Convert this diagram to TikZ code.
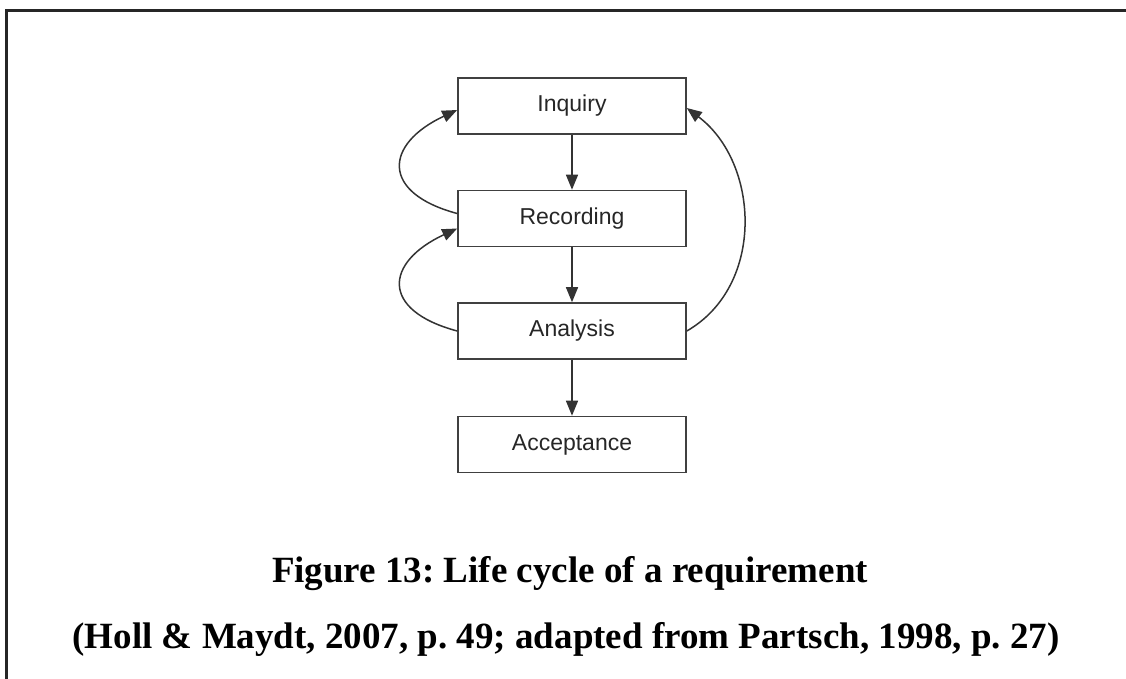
\documentclass[tikz,border=0pt]{standalone}
\usepackage{fontspec}
\setmainfont{Liberation Serif}
\newfontfamily\boxfont{Liberation Sans}
\usetikzlibrary{arrows.meta}
\frenchspacing

\tikzset{
  stagebox/.style={draw=black!75, line width=1.6pt, minimum width=228pt, minimum height=56pt,
    inner sep=0pt, font=\boxfont\fontsize{23}{27}\selectfont, text=black!85},
  flow/.style={draw=black!80, line width=1.5pt, -{Triangle[length=15pt,width=12pt]}},
  captionline/.style={anchor=base, inner sep=0pt, font=\bfseries\fontsize{37}{44}\selectfont}
}

\begin{document}
\begin{tikzpicture}[x=1pt,y=1pt]
  \useasboundingbox (0,0) rectangle (1126,-678);
  % frame of the page
  \draw[line width=2.2pt, black!85] (6.5,-700) -- (6.5,-10.5) -- (1140,-10.5);

  % life-cycle stages
  \node[stagebox] (inq) at (572,-106) {Inquiry};
  \node[stagebox] (rec) at (572,-218.5) {Recording};
  \node[stagebox] (ana) at (572,-331) {Analysis};
  \node[stagebox] (acc) at (572,-444.5) {Acceptance};

  % forward transitions
  \draw[flow] (inq) -- (rec);
  \draw[flow] (rec) -- (ana);
  \draw[flow] (ana) -- (acc);

  % feedback loops
  \draw[flow] ([yshift=5pt]rec.west) .. controls +(165:80) and +(205:80) .. ([yshift=-4pt]inq.west);
  \draw[flow] (ana.west) .. controls +(165:80) and +(205:80) .. ([yshift=-10pt]rec.west);
  \draw[flow] (ana.east) .. controls +(30:91) and +(-37:91) .. ([yshift=-2pt]inq.east);

  % caption
  \node[captionline] (cap1) at (570,-582) {Figure 13: Life cycle of a requirement};
  \node[captionline] (cap2) at (566,-648) {(Holl \& Maydt, 2007, p. 49; adapted from Partsch, 1998, p. 27)};
\end{tikzpicture}
\end{document}
